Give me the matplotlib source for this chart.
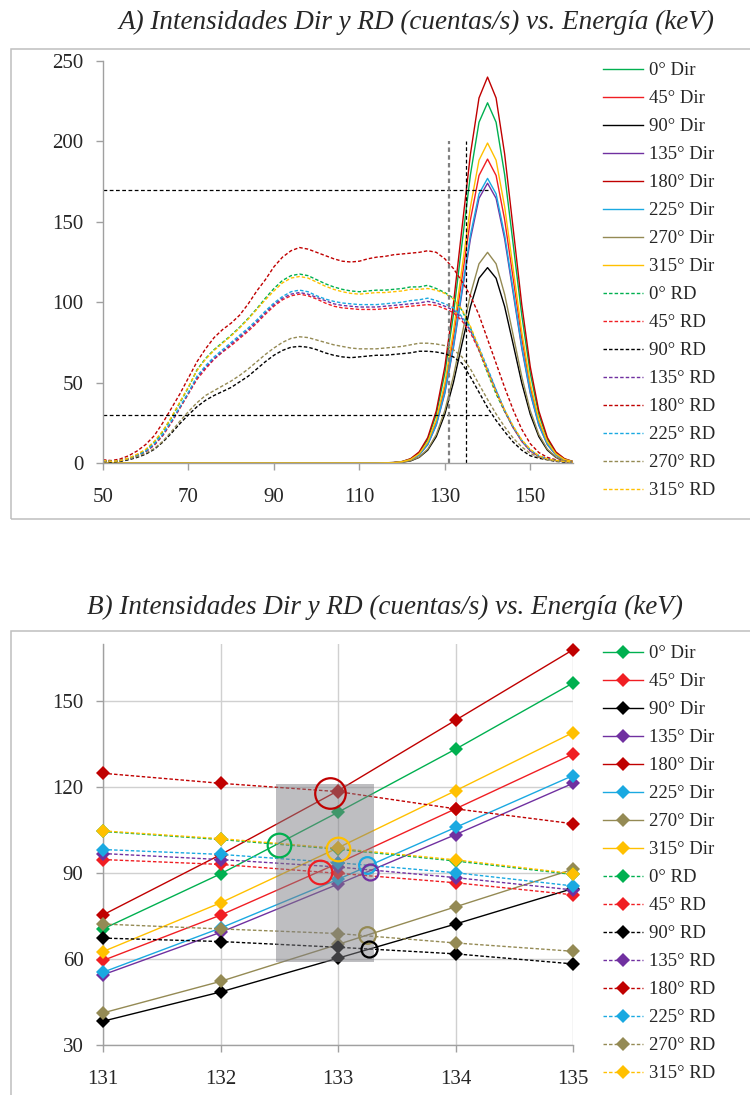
import numpy as np
import matplotlib
matplotlib.use("Agg")
import matplotlib.pyplot as plt
from matplotlib.patches import Rectangle

plt.rcParams['font.family'] = ['Liberation Serif', 'DejaVu Serif']

# series names and colours
names = ['0°', '45°', '90°', '135°', '180°', '225°', '270°', '315°']
colors = ['#00B050', '#F01E23', '#000000', '#7030A0', '#C00000', '#1AA9E1', '#948A54', '#FFC000']

# ---- A) full spectra ----
energy_dir = [50] + list(range(110, 161, 2))
energy_rd = list(range(50, 161, 2))

dir_0 = [0, 0, 0, 0, 0.1, 0.3, 0.9, 2.5, 6.4, 14.7, 30.2, 55.8, 92.1, 136.0, 179.4, 211.9, 224.0,
         211.9, 179.4, 136.0, 92.1, 55.8, 30.2, 14.7, 6.4, 2.5, 0.9]
dir_45 = [0, 0, 0, 0, 0.1, 0.2, 0.7, 2.1, 5.4, 12.4, 25.5, 47.1, 77.7, 114.7, 151.4, 178.8, 189.0,
          178.8, 151.4, 114.7, 77.7, 47.1, 25.5, 12.4, 5.4, 2.1, 0.7]
dir_90 = [0, 0, 0, 0, 0.0, 0.1, 0.5, 1.3, 3.5, 8.0, 16.4, 30.3, 49.9, 73.8, 97.3, 114.9, 121.5,
          114.9, 97.3, 73.8, 49.9, 30.3, 16.4, 8.0, 3.5, 1.3, 0.5]
dir_135 = [0, 0, 0, 0, 0.1, 0.2, 0.7, 1.9, 5.0, 11.4, 23.5, 43.3, 71.5, 105.6, 139.4, 164.6, 174.0,
           164.6, 139.4, 105.6, 71.5, 43.3, 23.5, 11.4, 5.0, 1.9, 0.7]
dir_180 = [0, 0, 0, 0, 0.1, 0.3, 0.9, 2.7, 6.9, 15.8, 32.4, 59.8, 98.6, 145.7, 192.2, 227.0, 240.0,
           227.0, 192.2, 145.7, 98.6, 59.8, 32.4, 15.8, 6.9, 2.7, 0.9]
dir_225 = [0, 0, 0, 0, 0.1, 0.2, 0.7, 2.0, 5.1, 11.6, 23.9, 44.1, 72.7, 107.4, 141.8, 167.4, 177.0,
           167.4, 141.8, 107.4, 72.7, 44.1, 23.9, 11.6, 5.1, 2.0, 0.7]
dir_270 = [0, 0, 0, 0, 0.0, 0.2, 0.5, 1.5, 3.7, 8.6, 17.7, 32.6, 53.8, 79.5, 104.9, 123.9, 131.0,
           123.9, 104.9, 79.5, 53.8, 32.6, 17.7, 8.6, 3.7, 1.5, 0.5]
dir_315 = [0, 0, 0, 0, 0.1, 0.2, 0.8, 2.2, 5.7, 13.1, 26.9, 49.6, 81.8, 120.8, 159.4, 188.3, 199.0,
           188.3, 159.4, 120.8, 81.8, 49.6, 26.9, 13.1, 5.7, 2.2, 0.8]

rd_0 = [1.5, 1, 1.5, 3, 5, 8, 13, 19.5, 28, 37.5,
        47, 58, 65, 70.5, 75, 79.5, 84.5, 90, 96, 102.5,
        108.5, 113.5, 116.5, 117.5, 116.5, 114, 111.5, 109.5, 108, 107,
        106.5, 107, 107.5, 107.5, 108, 108.5, 109.5, 109.5, 110.5, 108.5,
        106, 102.5, 95, 84, 70, 56, 43, 32, 22, 14,
        8, 4.5, 2.5, 1.5, 1, 0.5]
rd_45 = [1.5, 1, 1.5, 2.5, 4.5, 7, 11, 17, 25, 34,
         43, 52, 58.5, 64.5, 69, 73, 77.5, 82, 87, 92.5,
         97.5, 101.5, 104, 105, 104, 102, 99.5, 97.5, 96.5, 96,
         95.5, 95.5, 95.5, 96, 96.5, 97, 97.5, 98, 98.5, 98,
         96, 93.5, 88.5, 81, 70, 57.5, 44.5, 32.5, 22, 13.5,
         7.5, 4, 2.5, 1.5, 1, 0.5]
rd_90 = [1, 0.5, 1, 2, 3.5, 5.5, 8.5, 13, 18.5, 24.5,
         30, 35, 39, 42, 44.5, 47, 50.5, 54, 58.5, 63,
         67, 70, 72, 72.5, 72, 70.5, 68.5, 67, 66, 65.5,
         66, 66.5, 67, 67, 67.5, 68, 68.5, 69.5, 69.5, 69,
         68, 66, 62, 53.5, 44, 34.5, 26.5, 19.5, 13, 8,
         4.5, 3, 2, 1, 0.5, 0.3]
rd_135 = [1.5, 1, 1.5, 2.5, 4.5, 7, 11.5, 17.5, 25.5, 34.5,
          43.5, 53, 59.5, 65, 69.5, 74, 78.5, 83, 88, 93.5,
          98.5, 102.5, 105, 106, 105, 103, 101, 99, 98, 97.5,
          97, 97, 97, 97.5, 98, 98.5, 99, 99.5, 100.5, 99.5,
          97.5, 95, 90, 82.5, 71, 58, 45, 32.5, 22, 13.5,
          7.5, 4, 2.5, 1.5, 1, 0.5]
rd_180 = [2.0, 1.5, 2.5, 4.5, 7.5, 11.5, 17, 25, 34, 43,
          53, 63, 71, 78, 83, 87, 92, 99, 107, 114,
          122, 128, 132, 134, 133, 131, 129, 127, 125.5, 125,
          125.5, 127, 128, 128.5, 129.5, 130, 130.5, 131, 132, 131,
          127, 121, 113, 104, 92, 77, 62, 47, 33, 21,
          12, 6.5, 3.5, 2, 1, 0.5]
rd_225 = [1.5, 1, 1.5, 2.5, 4.5, 7.5, 12, 18, 26, 35,
          44, 54, 60.5, 66, 70.5, 75, 79.5, 84, 89, 94.5,
          99.5, 103.5, 106.5, 107.5, 106.5, 104, 102, 100.5, 99.5, 99,
          98.5, 98.5, 98.5, 99, 99.5, 100, 101, 101.5, 102.5, 101,
          99, 96.5, 91, 83.5, 72, 59, 45.5, 33, 22.5, 14,
          8, 4.5, 2.5, 1.5, 1, 0.5]
rd_270 = [1.5, 1, 1.5, 2.5, 4, 6, 9, 13.5, 19.5, 26,
          32, 37.5, 42, 45, 48, 51, 54.5, 58.5, 63, 67.5,
          71.5, 75, 77.5, 78.5, 78, 76.5, 75, 73.5, 72.5, 71.5,
          71, 71, 71, 71.5, 72, 72.5, 73.5, 74.5, 74.5, 74,
          73, 70.5, 66, 58.5, 49, 39.5, 30.5, 22.5, 15.5, 10,
          6, 3.5, 2, 1.5, 1, 0.5]
rd_315 = [1.5, 1, 1.5, 3, 5.5, 8.5, 13.5, 20, 28.5, 38,
          47.5, 57.5, 64.5, 70, 74.5, 79, 84, 89.5, 95.5, 101.5,
          107, 112, 115, 116, 115, 112.5, 110, 108, 106.5, 105.5,
          105, 105.5, 106, 106, 106.5, 107, 108, 108, 108.5, 107.5,
          105.5, 102, 95.5, 85, 71.5, 57, 44, 33, 23, 14.5,
          8.5, 4.5, 2.5, 1.5, 1, 0.5]

dir_all = [dir_0, dir_45, dir_90, dir_135, dir_180, dir_225, dir_270, dir_315]
rd_all = [rd_0, rd_45, rd_90, rd_135, rd_180, rd_225, rd_270, rd_315]

# ---- B) zoom 131-135 keV ----
zoom_e = [131, 132, 133, 134, 135]
z_dir = [
    [70.6, 89.8, 111.3, 133.3, 156.4],
    [59.6, 75.4, 93.5, 112.5, 131.6],
    [38.4, 48.6, 60.4, 72.3, 84.7],
    [54.6, 69.4, 86.2, 103.5, 121.4],
    [75.5, 96.5, 118.8, 143.4, 168.0],
    [55.5, 70.9, 87.9, 106.0, 124.1],
    [41.3, 52.3, 65.2, 78.3, 91.4],
    [62.7, 79.7, 98.9, 118.8, 139.1],
]
z_rd = [
    [104.6, 101.8, 98.4, 94.3, 89.6],
    [94.8, 93.1, 90.0, 86.7, 82.5],
    [67.4, 66.2, 64.2, 61.9, 58.4],
    [96.9, 94.8, 92.2, 88.5, 84.2],
    [124.9, 121.4, 118.5, 112.5, 107.3],
    [98.3, 96.6, 93.7, 90.2, 85.6],
    [72.3, 70.6, 69.0, 65.7, 62.8],
    [104.8, 102.1, 98.7, 94.7, 89.9],
]

# marked crossings
circ_x = [132.50, 132.93, 133.00, 132.85, 133.25, 133.27, 133.25, 133.26]
circ_y = [100.0, 117.9, 98.5, 90.4, 92.8, 90.4, 68.6, 63.6]
circ_c = ['#00B050', '#C00000', '#FFC000', '#F01E23', '#1AA9E1', '#7030A0', '#948A54', '#000000']
circ_s = [17, 22, 17, 17, 12, 11.5, 12, 11.5]

box_x = [132.47, 133.31]
box_y = [59.0, 121.2]

W, H = 750, 1095
fig = plt.figure(figsize=(W / 100, H / 100), dpi=100)

# chart frames
fig.add_artist(Rectangle((10.5 / W, 1 - 519 / H), 1.0, (519 - 49) / H, transform=fig.transFigure,
                         fill=False, ec='#BFBFBF', lw=1.1))
fig.add_artist(Rectangle((10.5 / W, -0.1), 1.0, 0.1 + (H - 631) / H, transform=fig.transFigure,
                         fill=False, ec='#BFBFBF', lw=1.1))

fig.text(416 / W, 1 - 22 / H, 'A) Intensidades Dir y RD (cuentas/s) vs. Energía (keV)',
         ha='center', va='center', fontsize=19.5, style='italic', color='#262626')
fig.text(385 / W, 1 - 607 / H, 'B) Intensidades Dir y RD (cuentas/s) vs. Energía (keV)',
         ha='center', va='center', fontsize=19.5, style='italic', color='#262626')

rd_dash = (0, (2.5, 1.5))

ax1 = fig.add_axes([103 / W, 1 - 463 / H, 470 / W, 402 / H])
h1 = []
for i in range(8):
    l, = ax1.plot(energy_dir, dir_all[i], color=colors[i], lw=1.0, label=names[i] + ' Dir')
    h1.append(l)
for i in range(8):
    l, = ax1.plot(energy_rd, rd_all[i], color=colors[i], lw=1.0, ls=rd_dash, label=names[i] + ' RD')
    h1.append(l)

# zoom window guides
ax1.plot([50, 140], [170, 170], color='black', lw=0.9, ls=(0, (3, 2)))
ax1.plot([50, 140], [30, 30], color='black', lw=0.9, ls=(0, (3, 2)))
ax1.plot([131, 131], [0, 200], color='#808080', lw=1.6, ls=(0, (2, 1.5)))
ax1.plot([135, 135], [0, 200], color='black', lw=0.9, ls=(0, (3, 2)))

ax1.set_xlim(50, 160)
ax1.set_ylim(0, 250)
ax1.set_xticks(range(50, 151, 20))
ax1.set_yticks(range(0, 251, 50))

ax2 = fig.add_axes([103 / W, 1 - 1045.3 / H, 470 / W, (1045.3 - 644) / H])
h2 = []
for i in range(8):
    l, = ax2.plot(zoom_e, z_dir[i], color=colors[i], lw=1.0, marker='D', ms=7,
                  mew=0, clip_on=False, zorder=3, label=names[i] + ' Dir')
    h2.append(l)
for i in range(8):
    l, = ax2.plot(zoom_e, z_rd[i], color=colors[i], lw=1.0, ls=rd_dash, marker='D', ms=7,
                  mew=0, clip_on=False, zorder=3, label=names[i] + ' RD')
    h2.append(l)

ax2.add_patch(Rectangle((box_x[0], box_y[0]), box_x[1] - box_x[0], box_y[1] - box_y[0],
                        fc='#7F7F85', alpha=0.5, ec='none', zorder=5))
for x, y, c, s in zip(circ_x, circ_y, circ_c, circ_s):
    ax2.plot(x, y, 'o', ms=s, mfc='none', mec=c, mew=1.6, zorder=6)

ax2.set_xlim(131, 135)
ax2.set_ylim(30, 170)
ax2.set_xticks(zoom_e)
ax2.set_yticks(range(30, 151, 30))
ax2.grid(True, color='#D0D0D0', lw=1.0)
ax2.set_axisbelow(True)

for ax in (ax1, ax2):
    for s in ('top', 'right'):
        ax.spines[s].set_visible(False)
    for s in ('left', 'bottom'):
        ax.spines[s].set_color('#A0A0A0')
        ax.spines[s].set_linewidth(1.0)
    ax.tick_params(direction='out', length=5, width=1, color='#A0A0A0',
                   labelcolor='#262626', labelsize=15)
    ax.tick_params(axis='x', pad=13)
    ax.tick_params(axis='y', pad=9)

leg_kw = dict(loc='upper left', bbox_transform=fig.transFigure, frameon=False, fontsize=13.5,
              handlelength=2.15, handletextpad=0.3, labelspacing=0.58, borderpad=0,
              borderaxespad=0, labelcolor='#262626')
ax1.legend(handles=h1, bbox_to_anchor=(603 / W, 1 - 62 / H), **leg_kw)
ax2.legend(handles=h2, bbox_to_anchor=(603 / W, 1 - 645 / H), **leg_kw)

fig.savefig('out.png', dpi=100)
